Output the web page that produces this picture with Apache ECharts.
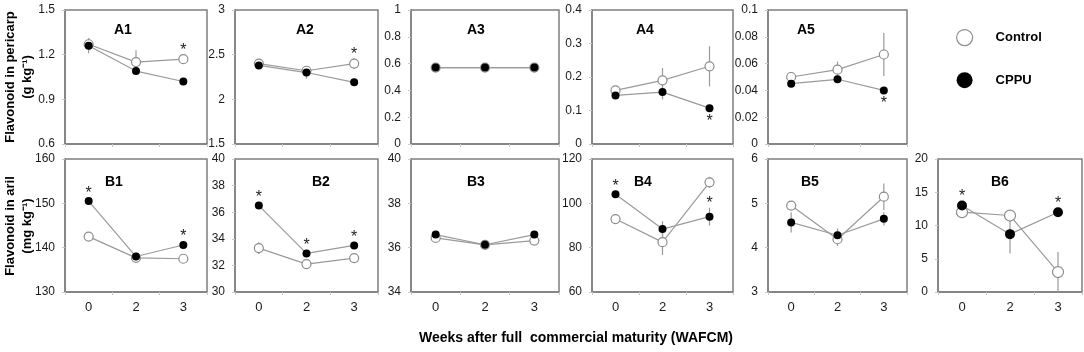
<!DOCTYPE html>
<html>
<head>
<meta charset="utf-8">
<script src="https://cdn.jsdelivr.net/npm/echarts@6/dist/echarts.min.js"></script>
<style>html,body{margin:0;padding:0;background:#fff}#c{width:1084px;height:352px}</style>
</head>
<body>
<div id="c"></div>
<script>
// ---- data ----
const weeks = ['0', '2', '3'];

const A1_control = [1.27, 1.15, 1.17];   const A1_controlErr = [0.04, 0.08, 0.03];
const A1_cppu    = [1.26, 1.09, 1.02];   const A1_cppuErr    = [0.05, 0.01, 0.01];
const A1_stars   = [[2, 'control', 'up']];

const A2_control = [2.40, 2.32, 2.40];   const A2_controlErr = [0.04, 0.03, 0.06];
const A2_cppu    = [2.38, 2.30, 2.19];   const A2_cppuErr    = [0.03, 0.07, 0.01];
const A2_stars   = [[2, 'control', 'up']];

const A3_control = [0.57, 0.57, 0.57];   const A3_controlErr = [0.01, 0.01, 0.01];
const A3_cppu    = [0.57, 0.57, 0.57];   const A3_cppuErr    = [0, 0, 0];
const A3_stars   = [];

const A4_control = [0.160, 0.190, 0.232]; const A4_controlErr = [0.010, 0.037, 0.060];
const A4_cppu    = [0.145, 0.155, 0.107]; const A4_cppuErr    = [0.010, 0.022, 0.005];
const A4_stars   = [[2, 'cppu', 'down']];

const A5_control = [0.050, 0.0555, 0.0668]; const A5_controlErr = [0.002, 0.006, 0.016];
const A5_cppu    = [0.045, 0.0483, 0.040];  const A5_cppuErr    = [0.001, 0.001, 0.001];
const A5_stars   = [[2, 'cppu', 'down']];

const B1_control = [142.5, 137.7, 137.5]; const B1_controlErr = [0.3, 0.3, 0.3];
const B1_cppu    = [150.5, 138.0, 140.6]; const B1_cppuErr    = [0.4, 0.4, 0.4];
const B1_stars   = [[0, 'cppu', 'up'], [2, 'cppu', 'up']];

const B2_control = [33.3, 32.1, 32.55];  const B2_controlErr = [0.45, 0.1, 0.1];
const B2_cppu    = [36.5, 32.9, 33.5];   const B2_cppuErr    = [0.15, 0.1, 0.1];
const B2_stars   = [[0, 'cppu', 'up'], [1, 'cppu', 'up'], [2, 'cppu', 'up']];

const B3_control = [36.44, 36.13, 36.32]; const B3_controlErr = [0.03, 0.03, 0.03];
const B3_cppu    = [36.59, 36.13, 36.59]; const B3_cppuErr    = [0.03, 0.03, 0.03];
const B3_stars   = [];

const B4_control = [92.9, 82.5, 109.5];  const B4_controlErr = [0.5, 5.8, 2.5];
const B4_cppu    = [104.1, 88.4, 94.0];  const B4_cppuErr    = [0.8, 3.5, 4.0];
const B4_stars   = [[0, 'cppu', 'up'], [2, 'cppu', 'up']];

const B5_control = [4.95, 4.19, 5.15];   const B5_controlErr = [0.10, 0.15, 0.30];
const B5_cppu    = [4.57, 4.28, 4.65];   const B5_cppuErr    = [0.23, 0.15, 0.15];
const B5_stars   = [];

const B6_control = [12.0, 11.5, 3.0];    const B6_controlErr = [0.3, 0.3, 3.0];
const B6_cppu    = [13.0, 8.7, 12.0];    const B6_cppuErr    = [0.3, 2.9, 0.3];
const B6_stars   = [[0, 'cppu', 'up'], [2, 'cppu', 'up']];

// y-axis scales (min, max, interval) per panel
const yScales = {
  A1: [0.6, 1.5, 0.3], A2: [1.5, 3, 0.5], A3: [0, 1, 0.2], A4: [0, 0.4, 0.1], A5: [0, 0.1, 0.02],
  B1: [130, 160, 10], B2: [30, 40, 2], B3: [34, 40, 2], B4: [60, 120, 20], B5: [3, 6, 1], B6: [0, 20, 5]
};

const seriesNames = ['Control', 'CPPU'];
const yTitleTop = 'Flavonoid in pericarp';
const yUnitTop = '(g kg⁻¹)';
const yTitleBottom = 'Flavonoid in aril';
const yUnitBottom = '(mg kg⁻¹)';
const xTitle = 'Weeks after full  commercial maturity (WAFCM)';

// ---- layout ----
const colLeft  = [65, 235, 411, 592, 768, 938];
const colWidth = [142, 143, 148, 141, 139, 144];
const rowTop = [10, 159];
const rowHeight = [134, 133];
const labelPos = {A1:[125,31],A2:[307,31],A3:[478,31],A4:[647,31],A5:[808,31],
                  B1:[116,183],B2:[323,183],B3:[478,183],B4:[645,183],B5:[812,183],B6:[1002,183]};

const panels = [
  ['A1', 0, 0, A1_control, A1_controlErr, A1_cppu, A1_cppuErr, A1_stars],
  ['A2', 0, 1, A2_control, A2_controlErr, A2_cppu, A2_cppuErr, A2_stars],
  ['A3', 0, 2, A3_control, A3_controlErr, A3_cppu, A3_cppuErr, A3_stars],
  ['A4', 0, 3, A4_control, A4_controlErr, A4_cppu, A4_cppuErr, A4_stars],
  ['A5', 0, 4, A5_control, A5_controlErr, A5_cppu, A5_cppuErr, A5_stars],
  ['B1', 1, 0, B1_control, B1_controlErr, B1_cppu, B1_cppuErr, B1_stars],
  ['B2', 1, 1, B2_control, B2_controlErr, B2_cppu, B2_cppuErr, B2_stars],
  ['B3', 1, 2, B3_control, B3_controlErr, B3_cppu, B3_cppuErr, B3_stars],
  ['B4', 1, 3, B4_control, B4_controlErr, B4_cppu, B4_cppuErr, B4_stars],
  ['B5', 1, 4, B5_control, B5_controlErr, B5_cppu, B5_cppuErr, B5_stars],
  ['B6', 1, 5, B6_control, B6_controlErr, B6_cppu, B6_cppuErr, B6_stars]
];

const FONT = '"Liberation Sans", Arial, sans-serif';
const FRAME = '#7f7f7f';
const LINE = '#9a9a9a';
const TXT = '#1a1a1a';

const grids = [], xAxes = [], yAxes = [], series = [], graphics = [];

panels.forEach((p, k) => {
  const [id, row, col, ctl, ctlErr, cppu, cppuErr, stars] = p;
  const [ymin, ymax, yint] = yScales[id];
  const symC = id === 'B6' ? 11 : 9;
  const symP = id === 'B6' ? 10 : 8;
  grids.push({
    left: colLeft[col], top: rowTop[row], width: colWidth[col], height: rowHeight[row],
    show: true, borderColor: FRAME, borderWidth: 1.5, backgroundColor: 'transparent'
  });
  xAxes.push({
    gridIndex: k, type: 'category', data: weeks, boundaryGap: true,
    axisLine: { show: true, lineStyle: { color: FRAME, width: 1.5 } },
    axisTick: { show: true, length: 3, lineStyle: { color: '#c8c8c8' } },
    axisLabel: { show: row === 1, fontSize: 13, fontFamily: FONT, color: TXT, margin: 9 },
    splitLine: { show: false }
  });
  yAxes.push({
    gridIndex: k, type: 'value', min: ymin, max: ymax, interval: yint,
    axisLine: { show: true, lineStyle: { color: FRAME, width: 1.5 } },
    axisTick: { show: true, length: 3, lineStyle: { color: '#c8c8c8' } },
    axisLabel: { fontSize: 12, fontFamily: FONT, color: TXT, margin: 10 },
    splitLine: { show: false }
  });
  // error bars
  const errData = [];
  ctl.forEach((v, i) => errData.push([i, v, ctlErr[i]]));
  cppu.forEach((v, i) => errData.push([i, v, cppuErr[i]]));
  series.push({
    type: 'custom', xAxisIndex: k, yAxisIndex: k, z: 1, silent: true,
    data: errData,
    renderItem: (params, api) => {
      const i = api.value(0), v = api.value(1), e = api.value(2);
      const lo = Math.max(v - e, ymin), hi = Math.min(v + e, ymax);
      const a = api.coord([i, lo]), b = api.coord([i, hi]);
      return { type: 'line', shape: { x1: a[0], y1: a[1], x2: b[0], y2: b[1] },
               style: { stroke: LINE, lineWidth: 1.2 } };
    }
  });
  series.push({
    name: 'Control', type: 'line', xAxisIndex: k, yAxisIndex: k, z: 2,
    data: ctl, symbol: 'circle', symbolSize: symC, showSymbol: true,
    lineStyle: { color: LINE, width: 1.2 },
    itemStyle: { color: '#ffffff', borderColor: '#8c8c8c', borderWidth: 1.2 },
    emphasis: { disabled: true }, animation: false
  });
  series.push({
    name: 'CPPU', type: 'line', xAxisIndex: k, yAxisIndex: k, z: 3,
    data: cppu, symbol: 'circle', symbolSize: symP, showSymbol: true,
    lineStyle: { color: LINE, width: 1.2 },
    itemStyle: { color: '#000000', borderColor: '#000000', borderWidth: 0 },
    emphasis: { disabled: true }, animation: false
  });
  // significance asterisks
  const starData = stars.map(s => {
    const i = s[0];
    const v = s[1] === 'control' ? ctl[i] : cppu[i];
    const e = s[1] === 'control' ? ctlErr[i] : cppuErr[i];
    const r = (s[1] === 'control' ? symC : symP) / 2;
    return [i, v, e, s[2] === 'up' ? 1 : -1, r];
  });
  series.push({
    type: 'custom', xAxisIndex: k, yAxisIndex: k, z: 4, silent: true,
    data: starData,
    renderItem: (params, api) => {
      const i = api.value(0), v = api.value(1), e = api.value(2), dir = api.value(3), r = api.value(4);
      const c = api.coord([i, v]);
      let y;
      if (dir > 0) {
        const top = Math.min(api.coord([i, v + e])[1], c[1] - r);
        y = top - 4;
      } else {
        const bot = Math.max(api.coord([i, v - e])[1], c[1] + r);
        y = bot + 9;
      }
      return { type: 'text', x: c[0], y: y,
               style: { text: '*', fill: '#222', font: '16px ' + FONT, align: 'center', verticalAlign: 'middle' } };
    }
  });
  graphics.push({
    type: 'text', left: labelPos[id][0] - 11, top: labelPos[id][1] - 8,
    style: { text: id, font: 'bold 14px ' + FONT, fill: '#000' }
  });
});

// axis titles
graphics.push({ type: 'text', x: 10, y: 77, rotation: Math.PI / 2,
  style: { text: yTitleTop, font: 'bold 13px ' + FONT, fill: '#000', align: 'center', verticalAlign: 'middle' } });
graphics.push({ type: 'text', x: 27, y: 77, rotation: Math.PI / 2,
  style: { text: yUnitTop, font: 'bold 13px ' + FONT, fill: '#000', align: 'center', verticalAlign: 'middle' } });
graphics.push({ type: 'text', x: 10, y: 226, rotation: Math.PI / 2,
  style: { text: yTitleBottom, font: 'bold 13px ' + FONT, fill: '#000', align: 'center', verticalAlign: 'middle' } });
graphics.push({ type: 'text', x: 27, y: 226, rotation: Math.PI / 2,
  style: { text: yUnitBottom, font: 'bold 13px ' + FONT, fill: '#000', align: 'center', verticalAlign: 'middle' } });
graphics.push({ type: 'text', x: 576, y: 338,
  style: { text: xTitle, font: 'bold 14px ' + FONT, fill: '#000', align: 'center', verticalAlign: 'middle' } });

const chart = echarts.init(document.getElementById('c'), null, { renderer: 'canvas' });
chart.setOption({
  animation: false,
  backgroundColor: '#ffffff',
  grid: grids,
  xAxis: xAxes,
  yAxis: yAxes,
  legend: {
    orient: 'vertical', left: 951, top: 24, itemGap: 26, itemWidth: 16, itemHeight: 16,
    selectedMode: false,
    textStyle: { fontFamily: FONT, fontSize: 13, fontWeight: 'bold', color: '#000', padding: [0, 0, 0, 18] },
    data: [
      { name: seriesNames[0], icon: 'circle', itemStyle: { color: '#ffffff', borderColor: '#8c8c8c', borderWidth: 1.2 } },
      { name: seriesNames[1], icon: 'circle', itemStyle: { color: '#000000', borderWidth: 0 } }
    ]
  },
  graphic: graphics,
  series: series
});
</script>
</body>
</html>
